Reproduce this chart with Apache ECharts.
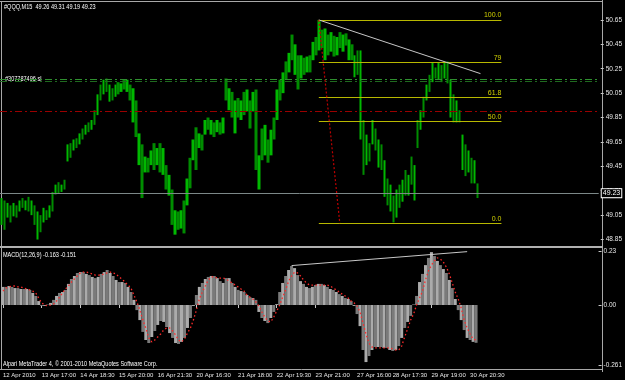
<!DOCTYPE html>
<html><head><meta charset="utf-8">
<script src="https://cdn.jsdelivr.net/npm/echarts@6/dist/echarts.min.js"></script>
<style>html,body{margin:0;padding:0;background:#000;}#c{width:625px;height:380px;}</style>
</head><body><div id="c"></div>
<script>
// ---- data (M15 bars, aggregated per 3px column) ----
const barHigh = [
49.19,49.17,49.15,49.13,49.15,49.13,49.17,49.19,49.17,49.20,
49.17,49.13,49.08,49.05,49.11,49.09,49.13,49.24,49.30,49.32,
49.30,49.34,49.63,49.64,49.67,49.68,49.72,49.76,49.79,49.81,
49.83,49.91,50.04,50.12,50.16,50.17,50.12,50.09,50.12,50.14,
50.13,50.16,50.16,50.12,50.09,49.99,49.72,49.63,49.53,49.52,
49.58,49.64,49.60,49.64,49.60,49.46,49.38,49.26,49.09,49.08,
49.09,49.17,49.35,49.52,49.67,49.77,49.72,49.71,49.83,49.85,
49.83,49.81,49.83,49.81,49.85,50.17,50.09,50.06,49.99,50.01,
49.99,50.06,50.08,49.99,50.06,50.08,49.54,49.76,49.79,49.67,
49.75,49.85,50.08,50.16,50.22,50.31,50.38,50.53,50.45,50.36,
50.36,50.34,50.35,50.36,50.47,50.51,50.65,50.57,50.58,50.53,
50.55,50.52,50.51,50.55,50.53,50.54,50.49,50.45,50.36,50.40,
50.40,49.83,49.71,49.64,49.83,49.76,49.67,49.63,49.50,49.35,
49.30,49.21,49.26,49.30,49.34,49.42,49.38,49.53,49.46,49.83,
49.91,50.02,50.12,50.20,50.30,50.26,50.30,50.28,50.30,50.31,
50.16,50.04,49.99,49.91,49.71,49.63,49.58,49.52,49.50,49.31];
const barLow = [
48.97,48.93,49.03,48.99,49.04,49.03,49.08,49.11,49.09,49.08,
49.05,48.97,48.85,48.91,48.99,49.01,49.03,49.08,49.22,49.23,
49.24,49.26,49.49,49.52,49.58,49.60,49.63,49.67,49.71,49.73,
49.75,49.79,49.87,49.99,50.04,50.06,49.98,49.99,50.02,50.04,
50.06,50.08,50.06,49.99,49.81,49.69,49.46,49.19,49.40,49.40,
49.46,49.42,49.46,49.40,49.38,49.26,49.21,48.97,48.89,48.93,
48.94,48.90,49.13,49.27,49.50,49.42,49.60,49.58,49.71,49.75,
49.71,49.69,49.73,49.71,49.72,49.99,49.91,49.85,49.72,49.85,
49.83,49.87,49.90,49.76,49.90,49.42,49.26,49.50,49.54,49.48,
49.54,49.67,49.83,49.99,50.05,50.16,50.22,50.32,50.20,50.08,
50.17,50.20,50.22,50.22,50.32,50.36,50.40,50.42,50.32,50.36,
50.39,50.35,50.36,50.42,50.39,50.44,50.32,50.32,50.18,50.20,
49.67,49.38,49.46,49.49,49.63,49.58,49.44,49.42,49.20,49.13,
49.08,48.99,49.03,49.11,49.16,49.21,49.21,49.30,49.17,49.60,
49.75,49.85,49.99,50.06,50.14,50.17,50.16,50.14,50.17,50.13,
49.85,49.81,49.81,49.81,49.42,49.37,49.40,49.31,49.31,49.19];
const macdMain = [
0.078,0.078,0.082,0.078,0.073,0.073,0.069,0.069,0.069,0.065,
0.052,0.039,0.017,-0.004,-0.004,0.002,0.009,0.022,0.039,0.052,
0.056,0.065,0.091,0.112,0.125,0.138,0.142,0.142,0.134,0.129,
0.121,0.116,0.121,0.134,0.142,0.151,0.138,0.125,0.108,0.099,
0.099,0.095,0.078,0.056,0.022,-0.022,-0.065,-0.116,-0.151,-0.164,
-0.138,-0.112,-0.086,-0.069,-0.073,-0.095,-0.121,-0.142,-0.164,-0.168,
-0.159,-0.142,-0.099,-0.056,-0.004,0.043,0.078,0.095,0.112,0.121,
0.125,0.125,0.116,0.103,0.095,0.116,0.116,0.095,0.078,0.065,
0.060,0.056,0.043,0.034,0.030,0.022,-0.030,-0.056,-0.069,-0.078,
-0.056,-0.030,0.004,0.056,0.095,0.125,0.151,0.168,0.159,0.129,
0.103,0.091,0.078,0.073,0.078,0.086,0.091,0.091,0.086,0.078,
0.069,0.065,0.056,0.047,0.039,0.030,0.026,0.017,-0.004,-0.039,
-0.091,-0.194,-0.246,-0.220,-0.194,-0.181,-0.181,-0.181,-0.185,-0.185,
-0.194,-0.198,-0.194,-0.177,-0.142,-0.099,-0.073,-0.047,0.002,0.039,
0.099,0.134,0.172,0.203,0.228,0.211,0.190,0.172,0.155,0.138,
0.108,0.073,0.026,-0.022,-0.065,-0.108,-0.142,-0.151,-0.159,-0.163];
const macdSignal = [
0.060,0.073,0.078,0.082,0.082,0.078,0.078,0.073,0.069,0.065,
0.060,0.052,0.030,0.009,0.000,-0.004,0.000,0.004,0.017,0.034,
0.052,0.069,0.082,0.099,0.112,0.125,0.138,0.142,0.142,0.138,
0.134,0.129,0.129,0.129,0.134,0.138,0.142,0.138,0.134,0.121,
0.112,0.099,0.086,0.073,0.043,0.013,-0.022,-0.065,-0.099,-0.142,
-0.159,-0.151,-0.138,-0.125,-0.108,-0.099,-0.099,-0.112,-0.129,-0.151,
-0.159,-0.147,-0.121,-0.099,-0.065,-0.022,0.026,0.056,0.082,0.108,
0.121,0.121,0.116,0.116,0.116,0.112,0.103,0.095,0.086,0.078,
0.069,0.060,0.043,0.034,0.026,0.013,-0.004,-0.030,-0.052,-0.069,
-0.073,-0.052,-0.026,0.000,0.034,0.065,0.103,0.125,0.142,0.138,
0.125,0.108,0.095,0.086,0.086,0.086,0.086,0.086,0.086,0.086,
0.082,0.073,0.065,0.056,0.047,0.039,0.030,0.017,0.009,-0.004,
-0.030,-0.078,-0.125,-0.164,-0.181,-0.185,-0.185,-0.185,-0.185,-0.185,
-0.185,-0.190,-0.194,-0.194,-0.177,-0.138,-0.103,-0.065,-0.039,0.000,
0.030,0.060,0.108,0.147,0.172,0.190,0.203,0.198,0.185,0.164,
0.134,0.095,0.056,0.026,-0.013,-0.065,-0.099,-0.125,-0.147,-0.151];
const tickLabels = ['12 Apr 2010','13 Apr 17:00','14 Apr 18:30','15 Apr 20:00','16 Apr 21:30','20 Apr 16:30','21 Apr 18:00','22 Apr 19:30','23 Apr 21:00','27 Apr 16:00','28 Apr 17:30','29 Apr 19:00','30 Apr 20:30'];
const tickBars = [0,13,26,39,52,65,79,92,105,119,131,144,157];
const priceTicks = [48.85,49.05,49.25,49.45,49.65,49.85,50.05,50.25,50.45,50.65];
const macdTicks = [-0.261,0,0.23];
const macdTickLabels = ['-0.261','0.00','0.23'];
const fibHigh = 50.65, fibLow = 48.985;
const fibRatios = [0,0.5,0.618,0.79,1];
const fibLabels = ['0.0','50.0','61.8','79','100.0'];
const fibBars = [106,167];
const orderLines = [50.165,50.145];
const redLevel = 49.898;
const bidPrice = 49.23;
const trendLine = [[106,50.65],[160,50.21]];
const fibAnchor = [[106,50.65],[112.5,48.985]];
const macdTrend = [[97,0.17],[156,0.23]];
const totalSlots = 200;

// ---- chart ----
const cats = [];
for (let i = 0; i < totalSlots; i++) cats.push(String(i));
const FONT = "'Liberation Sans',Arial,sans-serif";
const TXT = '#e8e8e8';
const chart = echarts.init(document.getElementById('c'), null, {renderer:'canvas'});

const candleData = barHigh.map((h,i) => ({
  value:[barLow[i], h, barLow[i], h],
  itemStyle:{color: i%2 ? '#008c00' : '#00b800', borderColor: i%2 ? '#008c00' : '#00b800', borderWidth:0}
}));
const histData = macdMain.map((v,i) => ({value:v, itemStyle:{color: i%2 ? '#7a7a7a' : '#ababab'}}));

const dashDot = [7,3,2,3];
const mainLines = [
  {yAxis: orderLines[0], lineStyle:{color:'#2f8f2f', type:dashDot, width:1}},
  {yAxis: orderLines[1], lineStyle:{color:'#1f6a1f', type:dashDot, width:1}},
  {yAxis: redLevel, lineStyle:{color:'#9a0000', type:dashDot, width:1}},
  {yAxis: bidPrice, lineStyle:{color:'#7c8888', type:'solid', width:1},
   label:{show:true, position:'end', distance:3, formatter: bidPrice.toFixed(2), color:'#fff', fontSize:7, fontFamily:FONT,
          backgroundColor:'#000', borderColor:'#fff', borderWidth:1, padding:[1,1,0,1]}}
];
fibRatios.forEach((r,k) => {
  const p = fibLow + r*(fibHigh - fibLow);
  mainLines.push([
    {coord:[fibBars[0], p], lineStyle:{color:'#b8b800', width:1, type:'solid'}},
    {coord:[fibBars[1], p], label:{show:true, position:'insideEndTop', distance:[0,1], formatter: fibLabels[k], color:'#d0d000', fontSize:7, fontFamily:FONT}}
  ]);
});
mainLines.push([{coord:trendLine[0], lineStyle:{color:'#c8c8c8', width:1, type:'solid'}},{coord:trendLine[1]}]);
mainLines.push([{coord:fibAnchor[0], lineStyle:{color:'#c00000', width:1.2, type:[2,2]}},{coord:fibAnchor[1]}]);

const gray = '#a8a8a8';
const hdr = (x, y, text) => ({type:'text', x:x, y:y, scaleX:0.74, scaleY:1,
  style:{text:text, fill:'#fff', fontSize:7.5, fontFamily:FONT, textVerticalAlign:'top', verticalAlign:'top'}});
const option = {
  backgroundColor:'#000',
  animation:false,
  grid:[
    {left:0, top:2, width:600, height:244},
    {left:0, top:251, width:600, height:118}
  ],
  xAxis:[
    {gridIndex:0, type:'category', data:cats, boundaryGap:true, axisLine:{show:false}, axisTick:{show:false}, axisLabel:{show:false}, splitLine:{show:false}},
    {gridIndex:1, type:'category', data:cats, boundaryGap:true, axisLine:{show:false},
     axisTick:{show:true, alignWithLabel:true, length:3, interval:(i)=>tickBars.includes(i), lineStyle:{color:'#c8c8c8'}},
     axisLabel:{show:true, hideOverlap:false, showMinLabel:true, interval:(i)=>tickBars.includes(i), formatter:(v,i)=>{const k=tickBars.indexOf(i); return k>=0?tickLabels[k]:'';},
       align:'left', margin:3, fontSize:6, color:TXT, fontFamily:FONT},
     splitLine:{show:false}}
  ],
  yAxis:[
    {gridIndex:0, type:'value', position:'right', offset:2, min:48.797, max:50.797, scale:true,
     axisLine:{show:false}, splitLine:{show:false},
     axisTick:{show:true, length:3, customValues:priceTicks, lineStyle:{color:'#c8c8c8'}},
     axisLabel:{show:true, customValues:priceTicks, formatter:(v)=>v.toFixed(2), fontSize:6.5, color:TXT, fontFamily:FONT, margin:5}},
    {gridIndex:1, type:'value', position:'right', offset:2, min:-0.2759, max:0.2328, scale:true,
     axisLine:{show:false}, splitLine:{show:false},
     axisTick:{show:true, length:3, customValues:macdTicks, lineStyle:{color:'#c8c8c8'}},
     axisLabel:{show:true, customValues:macdTicks, formatter:(v)=>{const k=macdTicks.findIndex(t=>Math.abs(t-v)<1e-6); return k>=0?macdTickLabels[k]:'';}, fontSize:6.5, color:TXT, fontFamily:FONT, margin:5}}
  ],
  series:[
    {type:'candlestick', xAxisIndex:0, yAxisIndex:0, data:candleData, barWidth:3,
     markLine:{silent:true, symbol:['none','none'], label:{show:false}, data:mainLines}},
    {type:'bar', xAxisIndex:1, yAxisIndex:1, data:histData, barWidth:3, barGap:'0%',
     markLine:{silent:true, symbol:['none','none'], label:{show:false},
       data:[[{coord:macdTrend[0], lineStyle:{color:'#c8c8c8', width:1, type:'solid'}},{coord:macdTrend[1]}]]}},
    {type:'line', xAxisIndex:1, yAxisIndex:1, data:macdSignal, showSymbol:false, smooth:false,
     lineStyle:{color:'#ff2a2a', width:1.3, type:[1.5,2.5]}}
  ],
  graphic:[
    {type:'line', shape:{x1:0,y1:1.5,x2:602,y2:1.5}, style:{stroke:gray, lineWidth:1}},
    {type:'line', shape:{x1:1.5,y1:1,x2:1.5,y2:370}, style:{stroke:gray, lineWidth:1}},
    {type:'line', shape:{x1:602.5,y1:0,x2:602.5,y2:372}, style:{stroke:gray, lineWidth:1}},
    {type:'rect', shape:{x:0,y:246,width:603,height:2}, style:{fill:'#b0b0b0'}},
    {type:'line', shape:{x1:0,y1:369.5,x2:603,y2:369.5}, style:{stroke:gray, lineWidth:1}},
    hdr(4, 3, '#QQQ,M15  49.26 49.31 49.19 49.23'),
    hdr(5, 75, '#307787496 sl'),
    hdr(3, 251, 'MACD(12,26,9) -0.163 -0.151'),
    hdr(3, 360, 'Alpari MetaTrader 4, © 2001-2010 MetaQuotes Software Corp.')
  ]
};
chart.setOption(option);
</script></body></html>
